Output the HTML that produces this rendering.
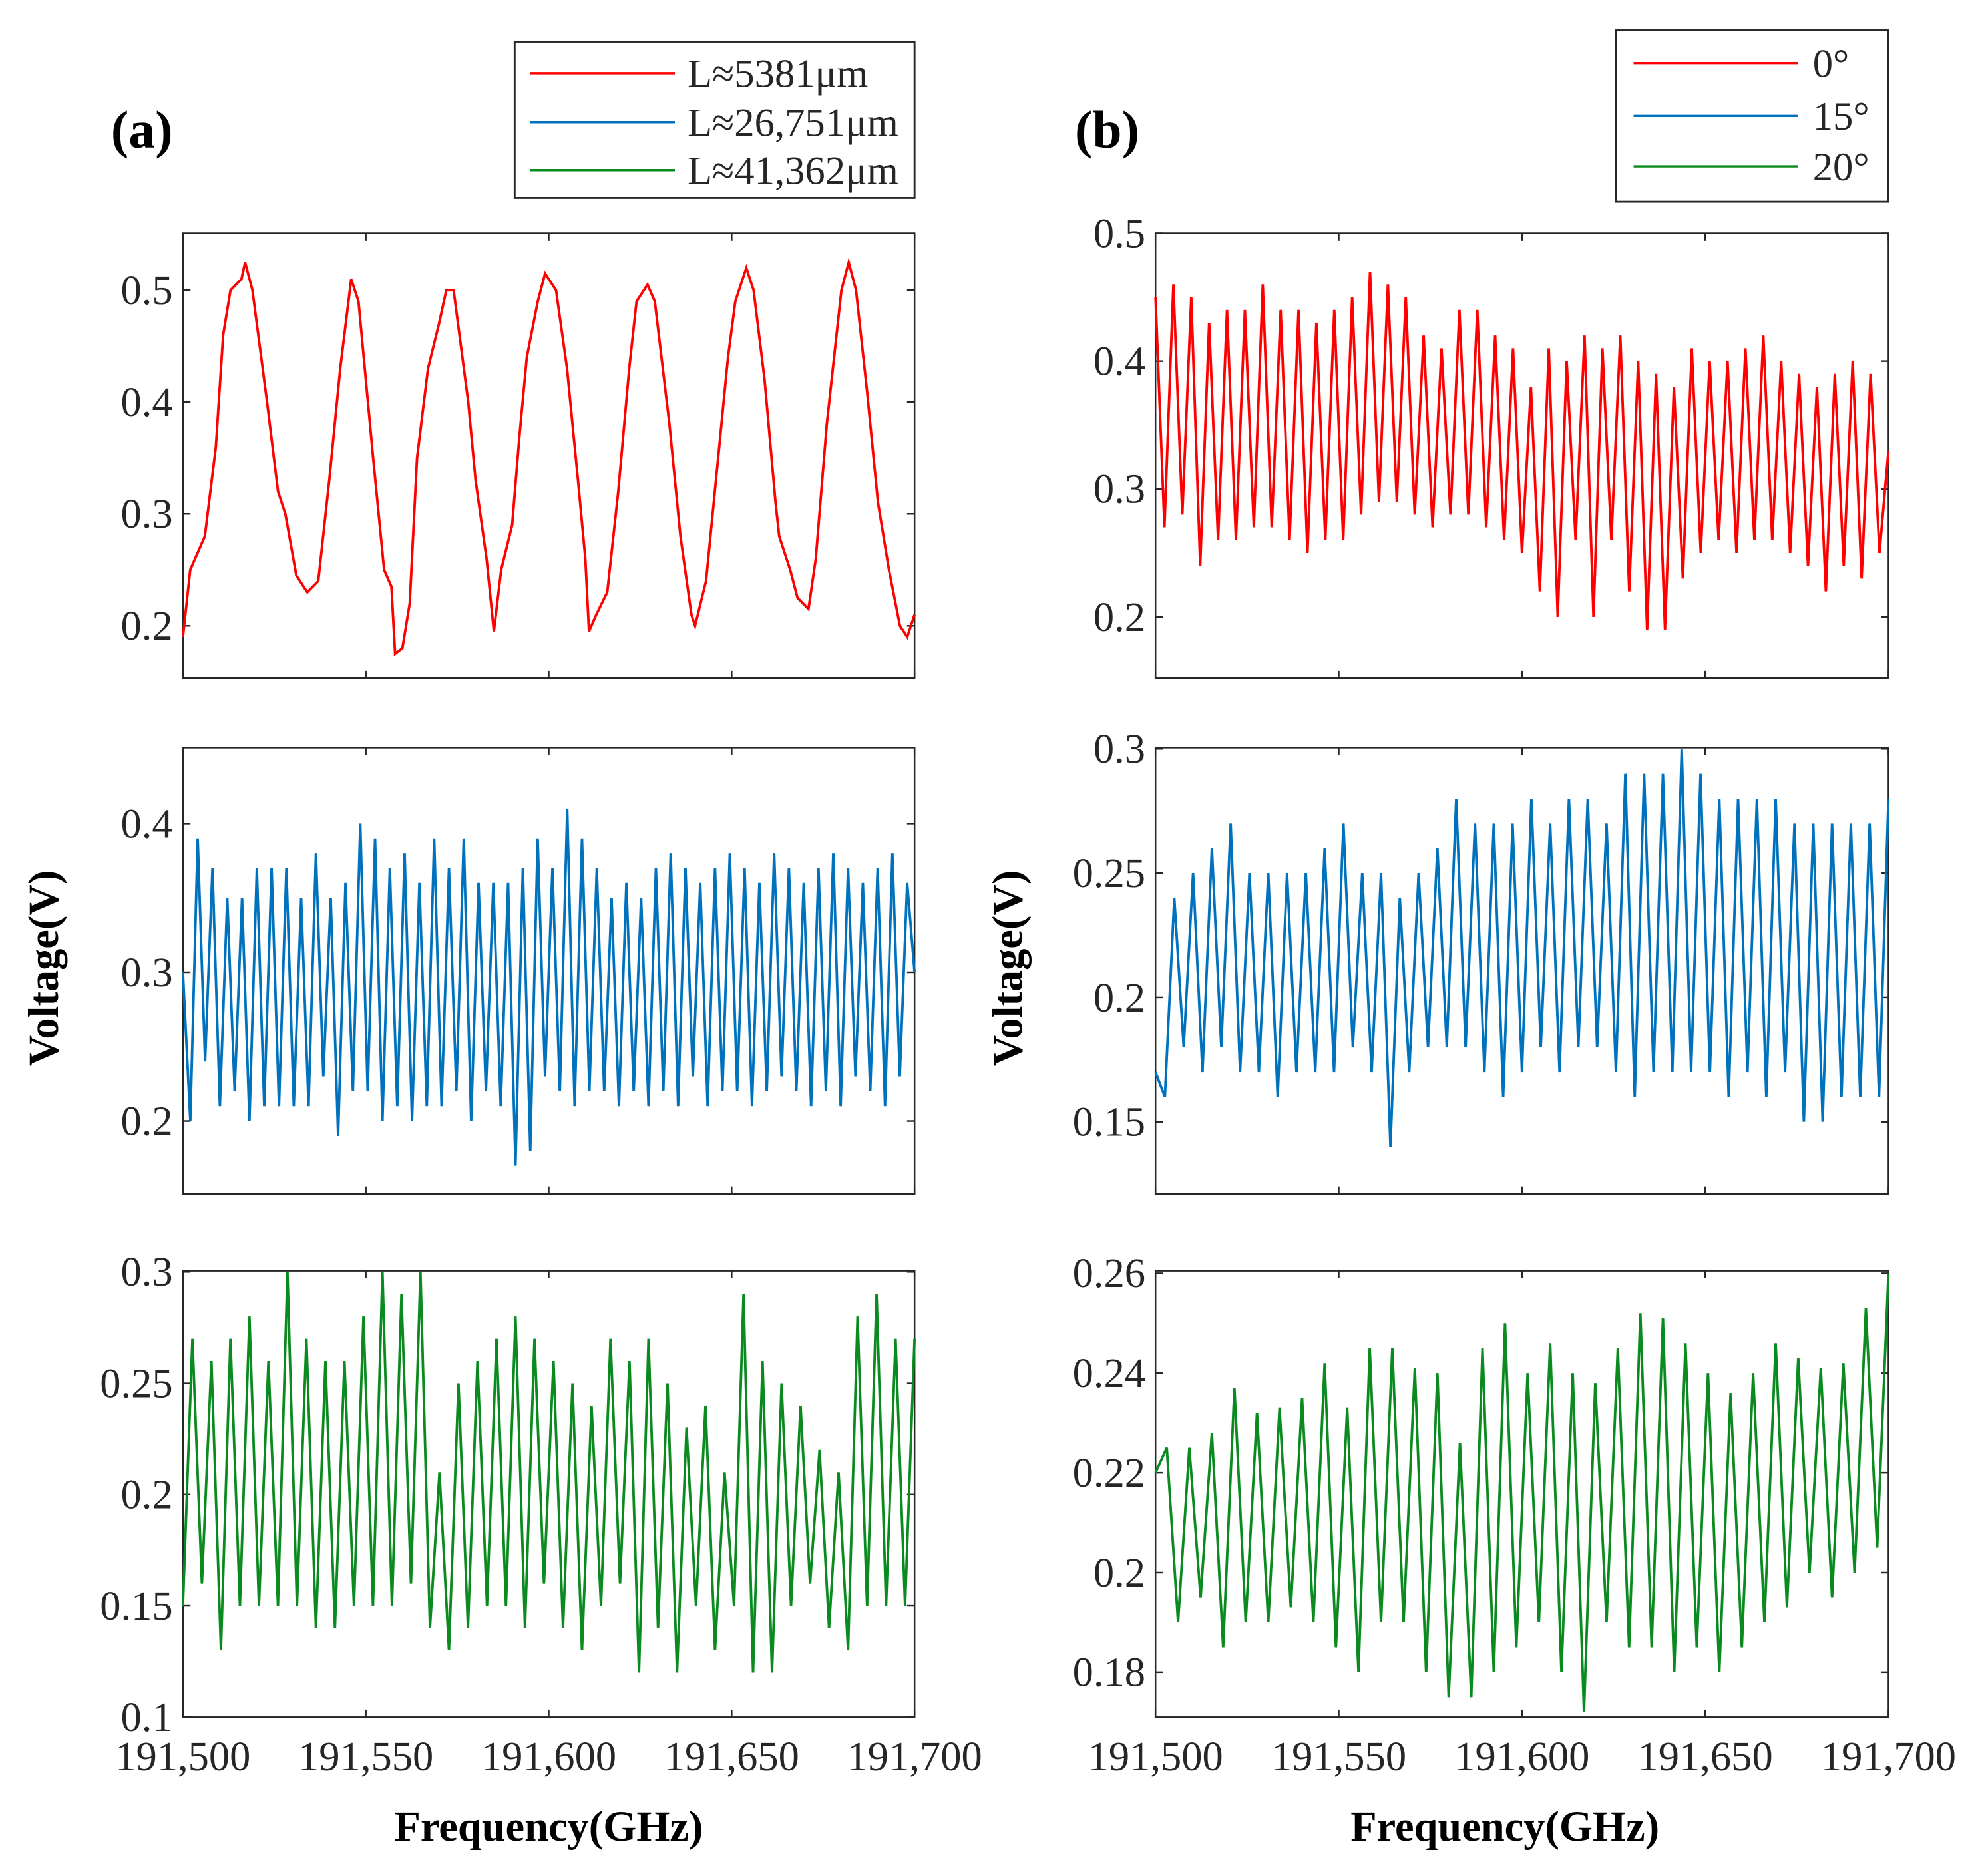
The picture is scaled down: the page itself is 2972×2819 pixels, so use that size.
<!DOCTYPE html>
<html><head><meta charset="utf-8">
<style>html,body{margin:0;padding:0;background:#fff}svg{display:block}</style></head>
<body>
<svg id="fig" xmlns="http://www.w3.org/2000/svg" width="2972" height="2819" viewBox="0 0 1568 1488" preserveAspectRatio="none" font-family="'Liberation Serif', serif"></svg>
<script>
const xTicks=[191500,191550,191600,191650,191700];
const xTickLabels=["191,500","191,550","191,600","191,650","191,700"];
const aTopFreq=[191500,191502,191506,191509,191511,191513,191516,191517,191519,191523,191526,191528,191531,191534,191537,191540,191543,191546,191548,191552,191555,191557,191558,191560,191562,191564,191567,191570,191572,191574,191578,191580,191583,191585,191587,191590,191592,191594,191597,191599,191602,191605,191608,191610,191611,191613,191616,191619,191622,191624,191627,191629,191633,191636,191639,191640,191643,191646,191649,191651,191654,191656,191659,191662,191663,191666,191668,191671,191673,191676,191678,191680,191682,191684,191687,191690,191693,191696,191698,191700];
const aTopVals=[0.19,0.25,0.28,0.36,0.46,0.50,0.51,0.525,0.50,0.40,0.32,0.30,0.245,0.23,0.24,0.33,0.43,0.51,0.49,0.35,0.25,0.235,0.175,0.18,0.22,0.35,0.43,0.47,0.50,0.50,0.40,0.33,0.26,0.195,0.25,0.29,0.37,0.44,0.49,0.515,0.50,0.43,0.33,0.26,0.195,0.21,0.23,0.32,0.43,0.49,0.505,0.49,0.38,0.28,0.21,0.20,0.24,0.34,0.44,0.49,0.52,0.50,0.42,0.31,0.28,0.25,0.225,0.215,0.26,0.38,0.44,0.50,0.525,0.50,0.41,0.31,0.25,0.20,0.19,0.21];
const aMidVals=[0.30,0.20,0.39,0.24,0.37,0.21,0.35,0.22,0.35,0.20,0.37,0.21,0.37,0.21,0.37,0.21,0.35,0.21,0.38,0.23,0.35,0.19,0.36,0.22,0.40,0.22,0.39,0.20,0.37,0.21,0.38,0.20,0.36,0.21,0.39,0.21,0.37,0.22,0.39,0.20,0.36,0.22,0.36,0.21,0.36,0.17,0.37,0.18,0.39,0.23,0.37,0.22,0.41,0.21,0.39,0.22,0.37,0.22,0.35,0.21,0.36,0.22,0.35,0.21,0.37,0.22,0.38,0.21,0.37,0.23,0.36,0.21,0.37,0.22,0.38,0.22,0.37,0.21,0.36,0.22,0.38,0.23,0.37,0.22,0.36,0.21,0.37,0.22,0.38,0.21,0.37,0.23,0.36,0.22,0.37,0.21,0.38,0.23,0.36,0.30];
const aBotVals=[0.15,0.27,0.16,0.26,0.13,0.27,0.15,0.28,0.15,0.26,0.15,0.30,0.15,0.27,0.14,0.26,0.14,0.26,0.15,0.28,0.15,0.30,0.15,0.29,0.16,0.30,0.14,0.21,0.13,0.25,0.14,0.26,0.15,0.27,0.15,0.28,0.14,0.27,0.16,0.26,0.14,0.25,0.13,0.24,0.15,0.27,0.16,0.26,0.12,0.27,0.14,0.25,0.12,0.23,0.15,0.24,0.13,0.21,0.15,0.29,0.12,0.26,0.12,0.25,0.15,0.24,0.16,0.22,0.14,0.21,0.13,0.28,0.15,0.29,0.15,0.27,0.15,0.27];
const bTopVals=[0.45,0.27,0.46,0.28,0.45,0.24,0.43,0.26,0.44,0.26,0.44,0.27,0.46,0.27,0.44,0.26,0.44,0.25,0.43,0.26,0.44,0.26,0.45,0.28,0.47,0.29,0.46,0.29,0.45,0.28,0.42,0.27,0.41,0.28,0.44,0.28,0.44,0.27,0.42,0.26,0.41,0.25,0.38,0.22,0.41,0.20,0.40,0.26,0.42,0.20,0.41,0.26,0.42,0.22,0.40,0.19,0.39,0.19,0.38,0.23,0.41,0.25,0.40,0.26,0.40,0.25,0.41,0.26,0.42,0.26,0.40,0.25,0.39,0.24,0.38,0.22,0.39,0.24,0.40,0.23,0.39,0.25,0.33];
const bMidVals=[0.17,0.16,0.24,0.18,0.25,0.17,0.26,0.18,0.27,0.17,0.25,0.17,0.25,0.16,0.25,0.17,0.25,0.17,0.26,0.17,0.27,0.18,0.25,0.17,0.25,0.14,0.24,0.17,0.25,0.18,0.26,0.18,0.28,0.18,0.27,0.17,0.27,0.16,0.27,0.17,0.28,0.18,0.27,0.17,0.28,0.18,0.28,0.18,0.27,0.17,0.29,0.16,0.29,0.17,0.29,0.17,0.30,0.17,0.29,0.17,0.28,0.16,0.28,0.17,0.28,0.16,0.28,0.17,0.27,0.15,0.27,0.15,0.27,0.16,0.27,0.16,0.27,0.16,0.28];
const bBotVals=[0.22,0.225,0.19,0.225,0.195,0.228,0.185,0.237,0.19,0.232,0.19,0.233,0.193,0.235,0.19,0.242,0.185,0.233,0.18,0.245,0.19,0.245,0.19,0.241,0.18,0.240,0.175,0.226,0.175,0.245,0.18,0.250,0.185,0.240,0.19,0.246,0.18,0.240,0.172,0.238,0.19,0.245,0.185,0.252,0.185,0.251,0.18,0.246,0.185,0.240,0.18,0.236,0.185,0.240,0.19,0.246,0.193,0.243,0.20,0.241,0.195,0.242,0.20,0.253,0.205,0.26];
const aTopTicks=[0.2,0.3,0.4,0.5], aMidTicks=[0.2,0.3,0.4], aBotTicks=[0.1,0.15,0.2,0.25,0.3];
const bTopTicks=[0.2,0.3,0.4,0.5], bMidTicks=[0.15,0.2,0.25,0.3], bBotTicks=[0.18,0.2,0.22,0.24,0.26];

const svg=document.getElementById('fig');
const NS='http://www.w3.org/2000/svg';
function mk(tag,attrs,parent){const e=document.createElementNS(NS,tag);for(const k in attrs)e.setAttribute(k,attrs[k]);(parent||svg).appendChild(e);return e;}
function evenFreq(n){const f=[];for(let i=0;i<n;i++)f.push(191500+200*i/(n-1));return f;}

function panel(name,x0,x1,y0,y1,ymin,ymax,ticks,freq,vals,color,showX){
  const g=mk('g',{});
  
  
  const sx=v=>x0+(v-191500)/200*(x1-x0);
  const sy=v=>y1-(v-ymin)/(ymax-ymin)*(y1-y0);
  const frame=mk('rect',{x:x0,y:y0,width:x1-x0,height:y1-y0,fill:'#fff',stroke:'#262626','stroke-width':1.3},g);
  
  
  xTicks.forEach((t,i)=>{
    const x=sx(t);
    mk('line',{x1:x,x2:x,y1:y1,y2:y1-6,stroke:'#262626','stroke-width':1.3},g);
    mk('line',{x1:x,x2:x,y1:y0,y2:y0+6,stroke:'#262626','stroke-width':1.3},g);
    if(showX){const tx=mk('text',{x:x,y:y1+42,'font-size':33,'text-anchor':'middle',fill:'#262626'},g);tx.textContent=xTickLabels[i];
      
      }
  });
  ticks.forEach(t=>{
    const y=sy(t);
    mk('line',{x1:x0,x2:x0+6,y1:y,y2:y,stroke:'#262626','stroke-width':1.3},g);
    mk('line',{x1:x1,x2:x1-6,y1:y,y2:y,stroke:'#262626','stroke-width':1.3},g);
    const tx=mk('text',{x:x0-8,y:y+11,'font-size':33,'text-anchor':'end',fill:'#262626'},g);tx.textContent=String(t);
    
    
  });
  const pts=vals.map((v,i)=>sx(freq[i]).toFixed(2)+','+sy(v).toFixed(2)).join(' ');
  const pl=mk('polyline',{points:pts,fill:'none',stroke:color,'stroke-width':2},g);
  
  
}
const red='#ff0000',blue='#0072bd',green='#0a8a1f';
panel('panel-a-top',145,725,185,538,0.153,0.551,aTopTicks,aTopFreq,aTopVals,red,false);
panel('panel-a-middle',145,725,593,947,0.151,0.451,aMidTicks,evenFreq(aMidVals.length),aMidVals,blue,false);
panel('panel-a-bottom',145,725,1008,1362,0.1,0.3005,aBotTicks,evenFreq(aBotVals.length),aBotVals,green,true);
panel('panel-b-top',916,1497,185,538,0.152,0.5,bTopTicks,evenFreq(bTopVals.length),bTopVals,red,false);
panel('panel-b-middle',916,1497,593,947,0.121,0.3005,bMidTicks,evenFreq(bMidVals.length),bMidVals,blue,false);
panel('panel-b-bottom',916,1497,1008,1362,0.171,0.2605,bBotTicks,evenFreq(bBotVals.length),bBotVals,green,true);

function txt(name,s,attrs){const t=mk('text',attrs);t.textContent=s;
  
  return t;}
txt('panel-a-label','(a)',{x:88,y:117,'font-size':42,'font-weight':'bold'});
txt('panel-b-label','(b)',{x:852,y:117,'font-size':42,'font-weight':'bold'});
txt('y-axis-title-a','Voltage(V)',{x:0,y:0,'font-size':34,'font-weight':'bold','text-anchor':'middle',transform:'translate(46,768) rotate(-90)'});
txt('y-axis-title-b','Voltage(V)',{x:0,y:0,'font-size':34,'font-weight':'bold','text-anchor':'middle',transform:'translate(810,768) rotate(-90)'});
txt('x-axis-title-a','Frequency(GHz)',{x:435,y:1460,'font-size':34,'font-weight':'bold','text-anchor':'middle'});
txt('x-axis-title-b','Frequency(GHz)',{x:1193,y:1460,'font-size':34,'font-weight':'bold','text-anchor':'middle'});

function legend(name,bx,by,bw,bh,lx1,lx2,tx,ys,labels,colors){
  const g=mk('g',{});
  
  
  mk('rect',{x:bx,y:by,width:bw,height:bh,fill:'#fff',stroke:'#262626','stroke-width':1.5},g);
  ys.forEach((y,i)=>{
    const e=mk('g',{},g);
    
    
    mk('line',{x1:lx1,x2:lx2,y1:y,y2:y,stroke:colors[i],'stroke-width':1.8},e);
    const t=mk('text',{x:tx,y:y+11,'font-size':32,fill:'#262626'},e);t.textContent=labels[i];
  });
}
legend('legend-a',408,33,317,124,420,535,545,[58,97,135],['L≈5381μm','L≈26,751μm','L≈41,362μm'],[red,blue,green]);
legend('legend-b',1281,24,216,136,1295,1425,1437,[50,92,132],['0°','15°','20°'],[red,blue,green]);
</script>
</body></html>
